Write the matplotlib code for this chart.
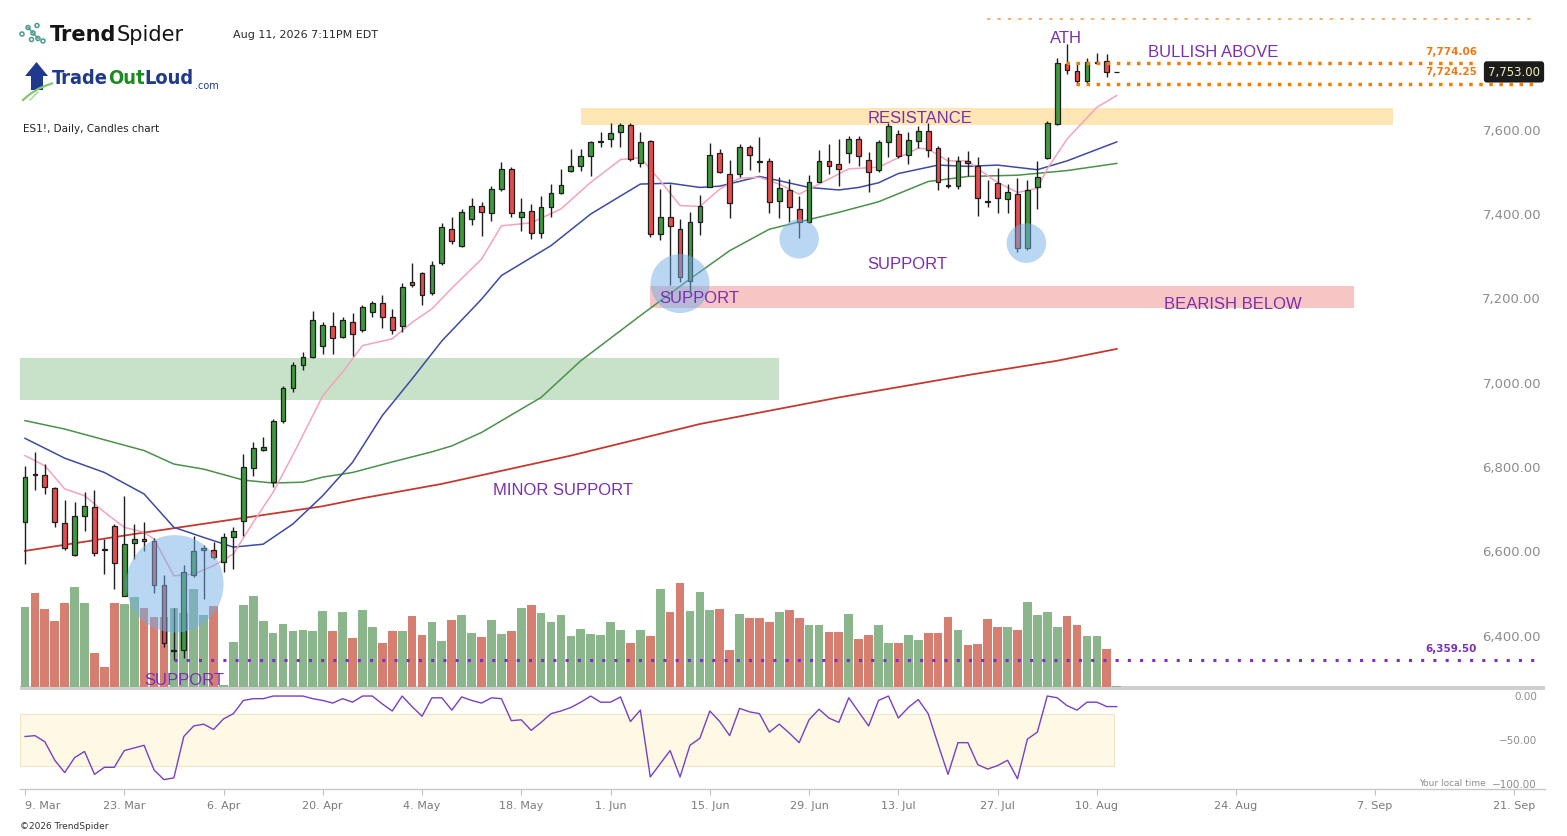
import numpy as np
import matplotlib
matplotlib.use("Agg")
import matplotlib.pyplot as plt
from matplotlib.patches import Rectangle, Ellipse, Circle, Polygon
from matplotlib import font_manager

# ---------------- data ----------------
opens = [6685, 6799, 6796, 6766, 6683, 6607, 6699, 6721, 6621, 6676,
         6510, 6635, 6645, 6640, 6536, 6380, 6383, 6561, 6619, 6620,
         6590, 6650, 6687, 6813, 6857, 6780, 6924, 7003, 7057, 7076,
         7102, 7150, 7124, 7161, 7142, 7183, 7204, 7171, 7150, 7254,
         7275, 7228, 7299, 7380, 7339, 7403, 7434, 7418, 7475, 7522,
         7408, 7422, 7370, 7432, 7465, 7517, 7531, 7553, 7587, 7593,
         7610, 7626, 7538, 7588, 7368, 7410, 7380, 7258, 7396, 7479,
         7560, 7512, 7512, 7576, 7541, 7541, 7448, 7474, 7429, 7396,
         7493, 7541, 7534, 7560, 7595, 7543, 7520, 7586, 7605, 7555,
         7588, 7614, 7572, 7484, 7482, 7541, 7529, 7448, 7489, 7451,
         7463, 7335, 7479, 7548, 7629, 7771, 7754, 7731, 7775, 7778,
         7753]
highs = [6818, 6851, 6822, 6768, 6738, 6732, 6756, 6762, 6646, 6681,
         6747, 6680, 6685, 6648, 6559, 6481, 6584, 6652, 6630, 6638,
         6659, 6673, 6847, 6875, 6887, 6930, 7007, 7064, 7088, 7185,
         7159, 7183, 7171, 7181, 7200, 7209, 7224, 7191, 7252, 7300,
         7279, 7304, 7395, 7408, 7428, 7453, 7444, 7482, 7539, 7527,
         7453, 7439, 7458, 7486, 7522, 7569, 7569, 7588, 7610, 7632,
         7632, 7632, 7610, 7591, 7475, 7487, 7403, 7420, 7460, 7584,
         7569, 7543, 7581, 7579, 7598, 7548, 7503, 7498, 7458, 7508,
         7567, 7581, 7593, 7600, 7600, 7562, 7592, 7631, 7615, 7610,
         7624, 7631, 7577, 7550, 7553, 7565, 7550, 7496, 7524, 7486,
         7501, 7496, 7541, 7636, 7785, 7818, 7776, 7785, 7797, 7795,
         7753]
lows = [6585, 6762, 6751, 6673, 6620, 6605, 6665, 6604, 6563, 6526,
        6510, 6598, 6618, 6518, 6389, 6359.5, 6362, 6555, 6503, 6598,
        6568, 6573, 6652, 6794, 6855, 6768, 6920, 6993, 7047, 7074,
        7084, 7084, 7122, 7080, 7137, 7172, 7146, 7132, 7135, 7242,
        7201, 7225, 7294, 7346, 7337, 7391, 7365, 7400, 7470, 7410,
        7375, 7356, 7358, 7408, 7463, 7515, 7517, 7507, 7574, 7576,
        7576, 7542, 7527, 7361, 7355, 7248, 7255, 7234, 7367, 7479,
        7513, 7406, 7504, 7520, 7515, 7418, 7406, 7396, 7358, 7394,
        7491, 7510, 7482, 7538, 7529, 7469, 7515, 7550, 7548, 7534,
        7572, 7550, 7474, 7477, 7475, 7505, 7412, 7432, 7418, 7418,
        7325, 7330, 7429, 7546, 7627, 7747, 7724.25, 7726, 7771, 7740,
        7753]
closes = [6792, 6797, 6768, 6685, 6623, 6699, 6723, 6611, 6620, 6588,
          6633, 6645, 6640, 6536, 6398, 6382, 6567, 6616, 6623, 6602,
          6650, 6664, 6815, 6860, 6863, 6926, 7003, 7057, 7076, 7164,
          7153, 7121, 7164, 7131, 7195, 7204, 7171, 7140, 7244, 7247,
          7223, 7294, 7384, 7351, 7420, 7434, 7420, 7475, 7522, 7418,
          7420, 7370, 7432, 7465, 7484, 7531, 7553, 7586, 7588, 7607,
          7626, 7546, 7586, 7368, 7410, 7388, 7266, 7396, 7434, 7557,
          7515, 7441, 7574, 7555, 7540, 7444, 7477, 7432, 7396, 7491,
          7541, 7531, 7522, 7595, 7553, 7515, 7586, 7624, 7553, 7591,
          7614, 7567, 7493, 7483, 7541, 7536, 7455, 7444, 7453, 7467,
          7335, 7472, 7503, 7631, 7773, 7757, 7731, 7776, 7776, 7752,
          7753]
volumes = [239, 281, 233, 197, 251, 299, 251, 101, 59, 251,
           248, 269, 236, 209, 209, 236, 221, 293, 215, 242,
           5, 134, 245, 272, 197, 161, 188, 167, 170, 167,
           227, 167, 224, 146, 230, 179, 131, 167, 167, 212,
           155, 194, 137, 200, 215, 161, 149, 200, 158, 167,
           236, 245, 221, 194, 215, 152, 173, 158, 155, 194,
           170, 131, 170, 152, 293, 224, 311, 227, 284, 230,
           233, 110, 218, 206, 206, 194, 224, 230, 206, 185,
           185, 164, 164, 218, 143, 155, 185, 131, 131, 155,
           140, 161, 161, 209, 170, 125, 128, 203, 179, 179,
           170, 254, 215, 224, 179, 212, 185, 152, 152, 113,
           2]
williams_r = [-46, -45, -52, -73, -87, -70, -63, -89, -81, -81,
              -62, -59, -56, -84, -95, -93, -46, -34, -32, -38,
              -26, -20, -5, -3, -3, 0, 0, 0, 0, -3,
              -5, -8, -3, -7, 0, 0, -9, -17, 0, -12,
              -23, -2, -2, -16, -1, -5, -8, -2, -3, -28,
              -27, -39, -30, -20, -17, -13, -7, 0, -7, -7,
              -1, -29, -16, -92, -77, -62, -92, -56, -48, -17,
              -29, -45, -14, -18, -20, -41, -32, -42, -53, -27,
              -15, -25, -30, -2, -18, -34, -5, 0, -25, -13,
              -4, -20, -55, -89, -53, -53, -78, -83, -79, -73,
              -94, -49, -41, 0, -2, -11, -16, -7, -7, -12,
              -12]

ma10_idx = [0, 2, 4, 6, 8, 10, 12, 13, 15, 17, 19, 21, 23, 25, 27, 29, 30, 32, 34, 37,
            39, 41, 43, 46, 48, 51, 54, 57, 60, 62, 64, 66, 68, 70, 72, 74, 76, 78, 80, 83,
            86, 90, 91, 93, 95, 96, 98, 100, 102, 103, 105, 108, 110]
ma10_val = [6843, 6819, 6764, 6748, 6709, 6673, 6661, 6645, 6558, 6562, 6582, 6610, 6685, 6756, 6845,
            6938, 6985, 7041, 7104, 7120, 7159, 7191, 7240, 7309, 7388, 7395, 7428, 7491, 7545, 7550,
            7495, 7436, 7434, 7475, 7501, 7503, 7487, 7463, 7487, 7523, 7527, 7572, 7570, 7542, 7542,
            7523, 7491, 7467, 7477, 7523, 7594, 7669, 7697]
ma20_idx = [0, 4, 8, 12, 15, 18, 21, 24, 27, 30, 33, 36, 39, 42, 46, 48, 53, 57, 62, 65,
            68, 70, 74, 76, 79, 82, 84, 86, 88, 92, 95, 98, 102, 105, 110]
ma20_val = [6884, 6837, 6803, 6752, 6673, 6649, 6626, 6633, 6681, 6748, 6827, 6938, 7025, 7115,
            7214, 7270, 7341, 7416, 7487, 7489, 7479, 7482, 7505, 7495, 7479, 7473, 7479, 7490,
            7512, 7532, 7529, 7532, 7521, 7542, 7587]
ma50_idx = [0, 4, 12, 15, 18, 22, 25, 28, 30, 33, 37, 41, 43, 46, 52, 56, 62, 67, 71, 75,
            82, 86, 91, 95, 100, 105, 110]
ma50_val = [6926, 6906, 6855, 6823, 6811, 6785, 6778, 6780, 6792, 6803, 6828, 6852, 6866, 6898,
            6981, 7068, 7175, 7262, 7329, 7380, 7420, 7445, 7493, 7505, 7508, 7519, 7536]
ma200_idx = [0, 11, 30, 34, 42, 55, 68, 82, 95, 104, 110]
ma200_val = [6617, 6657, 6723, 6742, 6776, 6843, 6918, 6981, 7034, 7068, 7096]

tick_idx = [0, 10, 20, 30, 40, 50, 59, 69, 79, 88, 98, 108, 122, 136, 150]
tick_labels = ["9. Mar", "23. Mar", "6. Apr", "20. Apr", "4. May", "18. May", "1. Jun",
               "15. Jun", "29. Jun", "13. Jul", "27. Jul", "10. Aug", "24. Aug", "7. Sep", "21. Sep"]
price_ticks = [6400, 6600, 6800, 7000, 7200, 7400, 7600]
osc_ticks = [0, -50, -100]

ath_level = 7774.06
pivot_level = 7724.25
top_level = 7878
support_level = 6359.50
last_price = 7753.00
resistance_zone = (7627, 7667)
bearish_zone = (7194, 7245)
green_zone = (6975, 7074)

# ---------------- fonts ----------------
names = {f.name for f in font_manager.fontManager.ttflist}
NARROW = "Liberation Sans Narrow" if "Liberation Sans Narrow" in names else "Liberation Sans"
ANN_SIZE = 14 if NARROW == "Liberation Sans Narrow" else 12
PURPLE = "#7b2fae"

# ---------------- figure ----------------
W, H = 1567, 837
fig = plt.figure(figsize=(W / 100, H / 100), dpi=100)
fig.patch.set_facecolor("white")


def rect(l, t, r, b):
    return [l / W, 1 - b / H, (r - l) / W, (b - t) / H]


ax = fig.add_axes(rect(20, 8, 1545, 688))
axv = ax.twinx()
osc = fig.add_axes(rect(20, 690, 1545, 789.5), sharex=ax)

n = len(closes)
idx = np.arange(n)
o = np.array(opens, float)
h = np.array(highs, float)
l = np.array(lows, float)
c = np.array(closes, float)
up = c >= o

ax.set_xlim(-0.504, 153.15)
ax.set_ylim(6294.3, 7906.9)
osc.set_ylim(-105.1, 8.0)
axv.set_ylim(0, 2040)

for a in (ax, axv, osc):
    for s in a.spines.values():
        s.set_visible(False)
ax.tick_params(left=False, right=False, bottom=False, labelleft=False, labelbottom=False)
axv.tick_params(left=False, right=False, labelright=False, labelleft=False)
ax.set_zorder(2)
axv.set_zorder(1)
ax.patch.set_visible(False)

# pixel scales
ppx = (1545 - 20) / (153.15 + 0.504)
ppy = (688 - 8) / (7906.9 - 6294.3)

# volume
vcol = np.where(up, "#8bb58b", "#d67e70")
axv.bar(idx, volumes, width=0.88, color=vcol, linewidth=0)

# zones
ax.add_patch(Rectangle((-0.6, green_zone[0]), 76.6, green_zone[1] - green_zone[0],
                       facecolor="#c8e2c9", edgecolor="none", zorder=1))
ax.add_patch(Rectangle((56.0, resistance_zone[0]), 81.8, resistance_zone[1] - resistance_zone[0],
                       facecolor="#fde6b3", edgecolor="none", zorder=1))
ax.add_patch(Rectangle((63.0, bearish_zone[0]), 70.9, bearish_zone[1] - bearish_zone[0],
                       facecolor="#f7c5c4", edgecolor="none", zorder=1))

# moving averages
ax.plot(ma200_idx, ma200_val, color="#c43a32", lw=1.3, zorder=2)
ax.plot(ma50_idx, ma50_val, color="#4b914b", lw=1.1, zorder=2)
ax.plot(ma20_idx, ma20_val, color="#3d4aa3", lw=1.1, zorder=2)
ax.plot(ma10_idx, ma10_val, color="#f4a3bb", lw=1.1, zorder=2)

# candles
ax.vlines(idx, l, h, color="#1e1e1e", lw=1.0, zorder=3)
ax.bar(idx, np.abs(c - o), bottom=np.minimum(o, c), width=0.48,
       color=np.where(up, "#3f9a3f", "#e84b4b"), edgecolor="#1e1e1e", linewidth=0.9, zorder=4)

# level lines
ax.plot([15, 152.3], [support_level] * 2, color="#7e2fc8", lw=2.2,
        ls=(0, (1, 3)), dash_capstyle="butt", zorder=4)
ax.plot([104.9, 146.3], [ath_level] * 2, color="#f57c00", lw=2.5,
        ls=(0, (1, 1.9)), dash_capstyle="butt", zorder=4)
ax.plot([105.9, 152.3], [pivot_level] * 2, color="#f57c00", lw=2.5,
        ls=(0, (1, 1.9)), dash_capstyle="butt", zorder=4)
ax.plot([96.9, 151.7], [top_level] * 2, color="#f59a4a", lw=1.1,
        ls=(0, (2.2, 4.6)), dash_capstyle="butt", zorder=4)

# highlight circles (index, price, radius px)
circles = [(15.1, 6539, 48.7), (66.0, 7251, 29.5), (78.0, 7357, 19.7), (100.9, 7347, 19.8)]
for cx, cy, r in circles:
    ax.add_patch(Ellipse((cx, cy), 2 * r / ppx, 2 * r / ppy, facecolor="#74aee6",
                         alpha=0.5, edgecolor="none", zorder=5))

# annotation texts
ann = [("ATH", 104.9, 7835.7), ("BULLISH ABOVE", 119.7, 7802.5), ("RESISTANCE", 90.2, 7646),
       ("SUPPORT", 88.9, 7299.8), ("SUPPORT", 67.9, 7219), ("BEARISH BELOW", 121.7, 7202.6),
       ("MINOR SUPPORT", 54.2, 6761.5), ("SUPPORT", 16.0, 6313)]
for t, x, y in ann:
    ax.text(x, y, t, color=PURPLE, fontsize=ANN_SIZE, family=NARROW,
            ha="center", va="center", zorder=6)

# right price labels
for p in price_ticks:
    ax.annotate(f"{p:,.2f}", xy=(1, p), xycoords=("axes fraction", "data"),
                xytext=(-4, 6.4), textcoords="offset pixels", ha="right", va="center",
                fontsize=9.5, color="#8c8c8c", zorder=6)
ax.annotate(f"{ath_level:,.2f}", xy=(146.3, ath_level), xytext=(0, 12),
            textcoords="offset pixels", ha="right", va="center", fontsize=7.5,
            fontweight="bold", color="#f07a10", zorder=6)
ax.annotate(f"{pivot_level:,.2f}", xy=(146.3, pivot_level), xytext=(0, 12.6),
            textcoords="offset pixels", ha="right", va="center", fontsize=7.5,
            fontweight="bold", color="#f07a10", zorder=6)
ax.annotate(f"{support_level:,.2f}", xy=(146.3, support_level), xytext=(0, 12),
            textcoords="offset pixels", ha="right", va="center", fontsize=7.5,
            fontweight="bold", color="#7b30b8", zorder=6)
ax.annotate(f"{last_price:,.2f}", xy=(1, last_price), xycoords=("axes fraction", "data"),
            xytext=(-5, 0), textcoords="offset pixels", ha="right", va="center",
            fontsize=8.5, color="#f3eec2", zorder=7,
            bbox=dict(boxstyle="round,pad=0.35,rounding_size=0.25", fc="#1c1c1c", ec="none"))

# oscillator
osc.add_patch(Rectangle((-0.5, -80), 110.2, 60, facecolor="#fdf9e4", edgecolor="#ede5c6",
                        linewidth=0.8, zorder=1))
osc.plot(idx, williams_r, color="#7a3fc2", lw=1.0, zorder=3)
osc.patch.set_visible(False)
osc.spines["bottom"].set_visible(True)
osc.spines["bottom"].set_color("#c8c8c8")
osc.spines["bottom"].set_linewidth(1.0)
osc.set_xticks(tick_idx)
osc.set_xticklabels(tick_labels)
osc.tick_params(axis="x", length=4, color="#c0c0c0", labelsize=8, labelcolor="#7a7a7a", pad=4)
osc.get_xticklabels()[0].set_ha("left")
osc.tick_params(axis="y", left=False, right=False, labelleft=False)
for v in osc_ticks:
    lab = f"{v:.2f}".replace("-", "\u2212")
    osc.annotate(lab, xy=(1, v), xycoords=("axes fraction", "data"), xytext=(-8, 0),
                 textcoords="offset pixels", ha="right", va="center", fontsize=7.5,
                 color="#8c8c8c", zorder=6)
ax.tick_params(bottom=False, labelbottom=False)

# ---------------- overlay (header, logos) ----------------
ov = fig.add_axes([0, 0, 1, 1])
ov.set_xlim(0, W)
ov.set_ylim(H, 0)
ov.axis("off")
ov.patch.set_visible(False)

ov.add_patch(Rectangle((20, 687.3), 1525, 3.2, facecolor="#cfcfcf", edgecolor="none"))

ren = fig.canvas.get_renderer()


def right_px(t):
    return t.get_window_extent(renderer=ren).x1


# TrendSpider icon
teal = "#4a9c8c"
for (x, y) in [(22, 35), (28, 28.5), (33, 34), (37, 26.5), (31.5, 40.5), (38, 39.5), (43, 42)]:
    ov.add_patch(Circle((x, y), 2.0, facecolor="none", edgecolor=teal, lw=1.1))
ov.plot([28, 33, 38], [28.5, 34, 39.5], color=teal, lw=1.0)
t1 = ov.text(50, 35, "Trend", fontsize=15, fontweight="bold", color="#151515", va="center", ha="left")
ov.text(right_px(t1) + 0.5, 35, "Spider", fontsize=15, color="#151515", va="center", ha="left")
ov.text(233, 35, "Aug 11, 2026 7:11PM EDT", fontsize=8, color="#2a2a2a", va="center", ha="left")

# TradeOutLoud logo
navy = "#1f3a8c"
ov.add_patch(Polygon([(36.5, 63), (48, 77), (43, 77), (43, 91), (31, 91), (31, 77), (25, 77)],
                     closed=True, facecolor=navy, edgecolor="none"))
ov.plot([23, 30, 38, 46, 52], [101, 95, 90, 86.5, 84.5], color="#86c66f", lw=1.6)
ov.plot([30, 38], [101, 93], color="#a5d68f", lw=1.0)

parts = [("Trade", navy), ("Out", "#1d8a20"), ("Loud", navy)]
logo_kw = dict(fontweight="bold", family="DejaVu Sans", fontstretch="condensed",
               va="center", ha="left")
# measure width at a trial size, then fit to the logo width
trial = []
x0 = 52
for txt, col in parts:
    tt = ov.text(x0, 79, txt, fontsize=18, color=col, **logo_kw)
    x0 = right_px(tt)
    trial.append(tt)
size = 18 * 143.0 / (x0 - 52)
for tt in trial:
    tt.remove()
x0 = 52
for txt, col in parts:
    tt = ov.text(x0, 78.5, txt, fontsize=size, color=col, **logo_kw)
    x0 = right_px(tt)
ov.text(x0 + 1, 86, ".com", fontsize=7, color=navy, va="center", ha="left")

ov.text(23, 129, "ES1!, Daily, Candles chart", fontsize=7.5, color="#222222", va="center", ha="left")
ov.text(20, 827, "\u00a92026 TrendSpider", fontsize=6.5, color="#333333", va="center", ha="left")
ov.text(1486, 784, "Your local time", fontsize=6.5, color="#8c8c8c", va="center", ha="right")

fig.savefig("out.png", dpi=100)
